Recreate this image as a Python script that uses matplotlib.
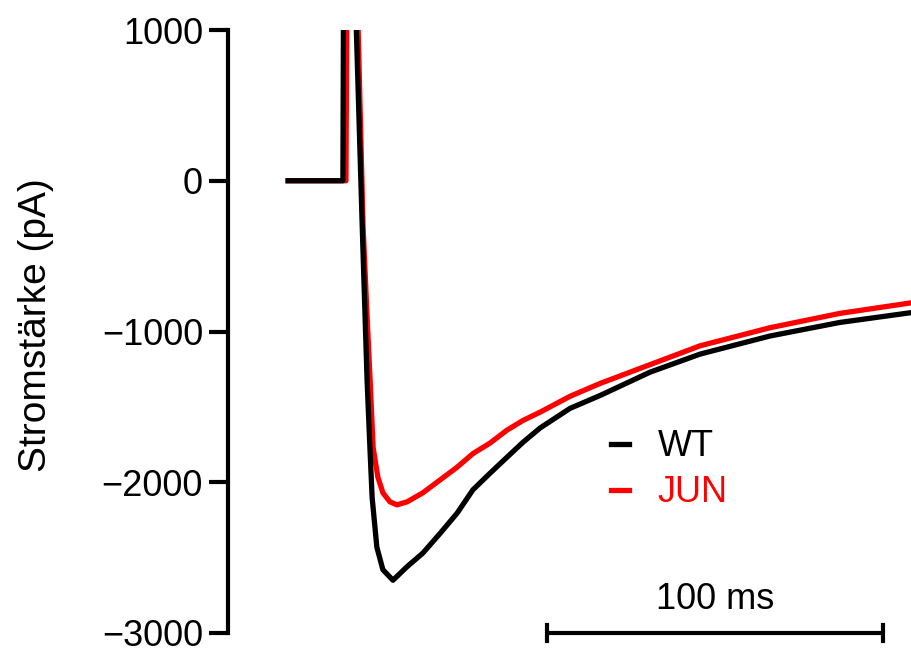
import matplotlib
matplotlib.use("Agg")
import matplotlib.pyplot as plt
from matplotlib.lines import Line2D

plt.rcParams['font.family'] = ['Liberation Sans', 'DejaVu Sans']

# ---- data (time in ms, current in pA) ----
wt_time = [17.9, 34.2, 34.4, 37.8, 39.9, 40.8, 41.4, 42.3, 42.9, 44.3, 46.1, 49.1,
           53.3, 58.0, 63.1, 68.2, 72.9, 78.0, 83.0, 87.8, 92.9, 101.8, 110.7,
           125.6, 140.5, 161.3, 182.1, 203.3]
wt_current = [0, 0, 1300, 1300, -265, -900, -1325, -1800, -2100, -2430, -2580, -2650,
              -2560, -2470, -2340, -2205, -2050, -1940, -1835, -1735, -1640, -1510, -1425,
              -1270, -1150, -1030, -940, -875]

jun_time = [17.9, 35.1, 35.4, 38.4, 40.2, 41.4, 42.3, 43.2, 44.6, 46.1, 48.2, 50.3,
            53.3, 58.0, 63.1, 68.2, 72.9, 78.0, 83.0, 87.8, 92.9, 101.8, 110.7,
            125.6, 140.5, 161.3, 182.1, 203.3]
jun_current = [0, 0, 1300, 1300, -300, -900, -1325, -1770, -1965, -2070, -2130, -2150,
               -2130, -2070, -1985, -1900, -1810, -1740, -1655, -1590, -1535, -1430, -1345,
               -1220, -1095, -975, -880, -810]

series_names = ["WT", "JUN"]
series_colors = ["black", "red"]

y_ticks = [-3000, -2000, -1000, 0, 1000]
y_label = "Stromstärke (pA)"
scale_bar_start = 95.0
scale_bar_length = 100.0
scale_bar_label = "100 ms"

# ---- figure ----
W, H = 911, 650
fig = plt.figure(figsize=(W / 100, H / 100), dpi=100)
ax = fig.add_axes([228 / W, (H - 633) / H, (911 - 228) / W, (633 - 30) / H])

ax.plot(wt_time, wt_current, color=series_colors[0], lw=3.8, zorder=3,
        solid_joinstyle="round")
ax.plot(jun_time, jun_current, color=series_colors[1], lw=3.8, zorder=2,
        solid_joinstyle="round")

ax.set_xlim(0, 203.3)
ax.set_ylim(-3000, 1000)

for s in ["top", "right", "bottom"]:
    ax.spines[s].set_visible(False)
ax.spines["left"].set_linewidth(3)
ax.set_xticks([])
ax.set_yticks(y_ticks)
ax.set_yticklabels([f"{v}".replace("-", "\u2212") for v in y_ticks])
ax.tick_params(axis="y", length=14, width=3, labelsize=26, pad=4)

ax.set_ylabel(y_label, fontsize=28)
ax.yaxis.set_label_coords(-0.255, 0.51)

# scale bar
x0, x1 = scale_bar_start, scale_bar_start + scale_bar_length
ax.plot([x0, x1], [-3000, -3000], color="black", lw=3, clip_on=False,
        solid_capstyle="butt")
ax.plot([x0, x0], [-3055, -2945], color="black", lw=3, clip_on=False)
ax.plot([x1, x1], [-3055, -2945], color="black", lw=3, clip_on=False)
ax.text((x0 + x1) / 2, -2775, scale_bar_label, ha="center", va="center", fontsize=26)

# legend
handles = [Line2D([0], [0], color=c, lw=3.8) for c in series_colors]
leg = ax.legend(handles, series_names, loc="upper left",
                bbox_to_anchor=((578 - 228) / 683, (633 - 397) / 603),
                frameon=False, fontsize=26, handlelength=0.5, handletextpad=0.8,
                labelspacing=0.3)
for t, c in zip(leg.get_texts(), series_colors):
    t.set_color(c)

fig.savefig("out.png", dpi=100)
